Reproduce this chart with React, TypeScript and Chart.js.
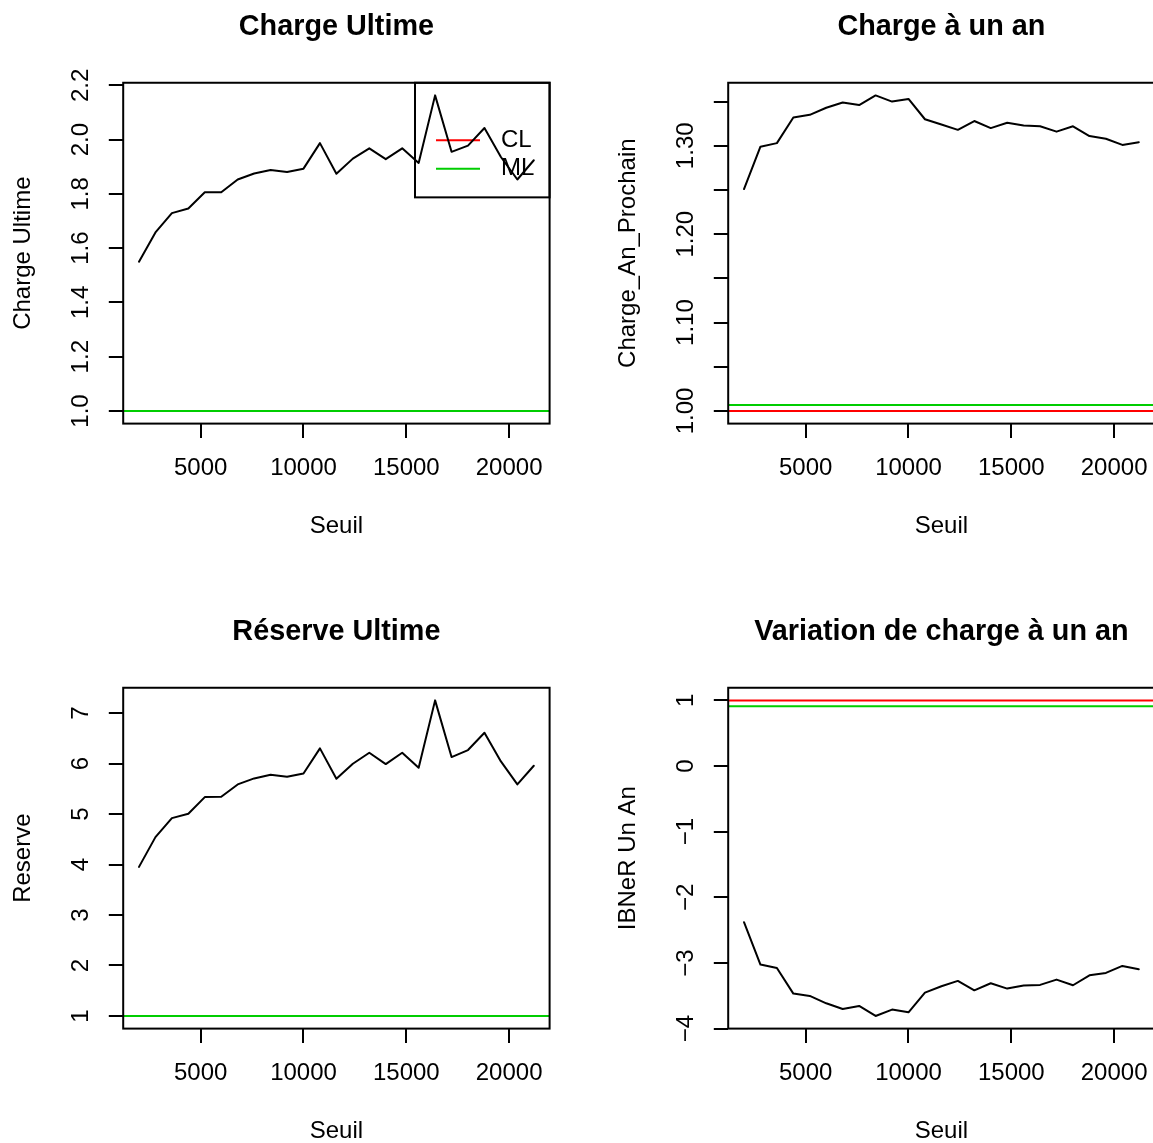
import React, { useEffect, useRef } from "react";
import { Chart, registerables } from "chart.js";

Chart.register(...registerables);

// ---------- data ----------
const seuil = [2000, 2800, 3600, 4400, 5200, 6000, 6800, 7600, 8400, 9200, 10000, 10800, 11600, 12400, 13200, 14000, 14800, 15600, 16400, 17200, 18000, 18800, 19600, 20400, 21200];
const chargeUltime = [1.550, 1.658, 1.729, 1.746, 1.806, 1.806, 1.853, 1.875, 1.888, 1.881, 1.893, 1.987, 1.874, 1.930, 1.968, 1.928, 1.968, 1.914, 2.163, 1.955, 1.978, 2.043, 1.936, 1.853, 1.924];
const chargeAnProchain = [1.251, 1.299, 1.303, 1.332, 1.335, 1.343, 1.349, 1.346, 1.357, 1.350, 1.353, 1.330, 1.324, 1.318, 1.328, 1.320, 1.326, 1.323, 1.322, 1.316, 1.322, 1.311, 1.308, 1.301, 1.304];
const reserve = [3.954, 4.543, 4.919, 5.005, 5.336, 5.342, 5.587, 5.706, 5.779, 5.739, 5.805, 6.301, 5.699, 5.997, 6.215, 5.990, 6.215, 5.917, 7.252, 6.129, 6.268, 6.611, 6.043, 5.587, 5.957];
const ibnerUnAn = [-2.379, -3.024, -3.075, -3.466, -3.502, -3.614, -3.700, -3.654, -3.807, -3.710, -3.751, -3.451, -3.355, -3.273, -3.416, -3.309, -3.390, -3.344, -3.334, -3.253, -3.339, -3.187, -3.151, -3.045, -3.096];

// reference lines (CL in red, ML in green) per panel
const refCL = [1, 1, 1, 1];
const refML = [1, 1.0068, 1, 0.909];

const legendLabels = ["CL", "ML"];

const xTicks = [5000, 10000, 15000, 20000];
const xTickLabels = ["5000", "10000", "15000", "20000"];

const yTicks1 = [1.0, 1.2, 1.4, 1.6, 1.8, 2.0, 2.2];
const yLabels1 = ["1.0", "1.2", "1.4", "1.6", "1.8", "2.0", "2.2"];
const yTicks2 = [1.0, 1.05, 1.1, 1.15, 1.2, 1.25, 1.3, 1.35];
const yLabels2 = ["1.00", "", "1.10", "", "1.20", "", "1.30", ""];
const yTicks3 = [1, 2, 3, 4, 5, 6, 7];
const yLabels3 = ["1", "2", "3", "4", "5", "6", "7"];
const yTicks4 = [-4, -3, -2, -1, 0, 1];
const yLabels4 = ["\u22124", "\u22123", "\u22122", "\u22121", "0", "1"];

const titles = ["Charge Ultime", "Charge à un an", "Réserve Ultime", "Variation de charge à un an"];
const yTitles = ["Charge Ultime", "Charge_An_Prochain", "Reserve", "IBNeR Un An"];
const xTitle = "Seuil";

// ---------- styling ----------
const FONT = "'Liberation Sans', Arial, Helvetica, sans-serif";
const RED = "#FF0000";
const GREEN = "#00CD00";
const PANEL = 605;
const LW = 2;

Chart.defaults.font.family = FONT;
Chart.defaults.color = "#000";

function limits(vals: number[]): [number, number] {
  const lo = Math.min(...vals);
  const hi = Math.max(...vals);
  const p = (hi - lo) * 0.04;
  return [lo - p, hi + p];
}

function widest(labels: string[]): number {
  const c = document.createElement("canvas").getContext("2d")!;
  c.font = `24px ${FONT}`;
  return Math.max(...labels.map((l) => c.measureText(l).width));
}

const boxPlugin = {
  id: "rbox",
  afterDatasetsDraw(chart: any) {
    const { ctx, chartArea: a } = chart;
    ctx.save();
    ctx.strokeStyle = "#000";
    ctx.lineWidth = LW;
    ctx.strokeRect(a.left, a.top, a.right - a.left, a.bottom - a.top);
    ctx.restore();
  },
};

const legendPlugin = {
  id: "rlegend",
  beforeDatasetsDraw(chart: any, _args: any, opts: any) {
    if (!opts || !opts.show) return;
    const { ctx, chartArea: a } = chart;
    ctx.save();
    ctx.strokeStyle = "#000";
    ctx.lineWidth = LW;
    const bx = a.right - 134.6;
    const by = a.top;
    ctx.strokeRect(bx, by, a.right - bx, 114.6);
    const colors = [RED, GREEN];
    const ys = [by + 57.4, by + 86];
    ctx.font = `24px ${FONT}`;
    ctx.textBaseline = "middle";
    ctx.textAlign = "left";
    legendLabels.forEach((lab, i) => {
      ctx.strokeStyle = colors[i];
      ctx.beginPath();
      ctx.moveTo(a.right - 113.6, ys[i]);
      ctx.lineTo(a.right - 69.6, ys[i]);
      ctx.stroke();
      ctx.fillStyle = "#000";
      ctx.fillText(lab, a.right - 48.6, ys[i]);
    });
    ctx.restore();
  },
};

type PanelCfg = {
  title: string;
  yTitle: string;
  values: number[];
  yTicks: number[];
  yLabels: string[];
  cl: number;
  ml: number;
  legend: boolean;
};

const panels: PanelCfg[] = [
  { title: titles[0], yTitle: yTitles[0], values: chargeUltime, yTicks: yTicks1, yLabels: yLabels1, cl: refCL[0], ml: refML[0], legend: true },
  { title: titles[1], yTitle: yTitles[1], values: chargeAnProchain, yTicks: yTicks2, yLabels: yLabels2, cl: refCL[1], ml: refML[1], legend: false },
  { title: titles[2], yTitle: yTitles[2], values: reserve, yTicks: yTicks3, yLabels: yLabels3, cl: refCL[2], ml: refML[2], legend: false },
  { title: titles[3], yTitle: yTitles[3], values: ibnerUnAn, yTicks: yTicks4, yLabels: yLabels4, cl: refCL[3], ml: refML[3], legend: false },
];

function Panel({ cfg, left, top }: { cfg: PanelCfg; left: number; top: number }) {
  const ref = useRef<HTMLCanvasElement>(null);
  useEffect(() => {
    const [xmin, xmax] = limits(seuil);
    const [ymin, ymax] = limits([...cfg.values, cfg.cl, cfg.ml]);
    const yPad = 27.8 - widest(cfg.yLabels) / 2;
    const chart = new Chart(ref.current!, {
      type: "line",
      data: {
        datasets: [
          {
            label: "ML",
            data: [{ x: xmin, y: cfg.ml }, { x: xmax, y: cfg.ml }],
            borderColor: GREEN,
            borderWidth: LW,
            pointRadius: 0,
            order: 0,
          },
          {
            label: "CL",
            data: [{ x: xmin, y: cfg.cl }, { x: xmax, y: cfg.cl }],
            borderColor: RED,
            borderWidth: LW,
            pointRadius: 0,
            order: 1,
          },
          {
            label: cfg.yTitle,
            data: seuil.map((x, i) => ({ x, y: cfg.values[i] })),
            borderColor: "#000",
            borderWidth: LW,
            pointRadius: 0,
            tension: 0,
            borderJoinStyle: "round",
            borderCapStyle: "round",
            order: 2,
          },
        ],
      },
      options: {
        responsive: false,
        animation: false,
        devicePixelRatio: 1,
        layout: { padding: { left: 0, top: 0, right: 55.4, bottom: 61.4 } },
        plugins: {
          legend: { display: false },
          tooltip: { enabled: false },
          title: {
            display: true,
            text: cfg.title,
            fullSize: false,
            color: "#000",
            font: { family: FONT, size: 28.8, weight: "bold" },
            padding: { top: 10.2, bottom: 38.0 },
          },
          rlegend: { show: cfg.legend },
        } as any,
        scales: {
          x: {
            type: "linear",
            position: "bottom",
            min: xmin,
            max: xmax,
            afterBuildTicks: (s: any) => {
              s.ticks = xTicks.map((v) => ({ value: v }));
            },
            afterFit: (s: any) => {
              s.height = 120;
            },
            ticks: {
              autoSkip: false,
              minRotation: 0,
              maxRotation: 0,
              padding: 16,
              color: "#000",
              font: { family: FONT, size: 24 },
              callback: (_v: any, i: number) => xTickLabels[i],
            },
            grid: {
              display: true,
              drawOnChartArea: false,
              drawTicks: true,
              tickLength: 14.4,
              tickWidth: LW,
              tickColor: "#000",
              color: "#000",
              lineWidth: LW,
            },
            border: { display: false },
            title: {
              display: true,
              text: xTitle,
              color: "#000",
              font: { family: FONT, size: 24 },
              padding: { top: 0, bottom: 2.8 },
            },
          },
          y: {
            type: "linear",
            position: "left",
            min: ymin,
            max: ymax,
            afterBuildTicks: (s: any) => {
              s.ticks = cfg.yTicks.map((v) => ({ value: v }));
            },
            afterFit: (s: any) => {
              s.width = 123.2;
            },
            ticks: {
              autoSkip: false,
              minRotation: 90,
              maxRotation: 90,
              crossAlign: "center",
              padding: yPad,
              color: "#000",
              font: { family: FONT, size: 24 },
              callback: (_v: any, i: number) => cfg.yLabels[i],
            },
            grid: {
              display: true,
              drawOnChartArea: false,
              drawTicks: true,
              tickLength: 14.4,
              tickWidth: LW,
              tickColor: "#000",
              color: "#000",
              lineWidth: LW,
            },
            border: { display: false },
            title: {
              display: true,
              text: cfg.yTitle,
              color: "#000",
              font: { family: FONT, size: 24 },
              padding: { top: 8.6, bottom: 0 },
            },
          },
        },
      } as any,
      plugins: [boxPlugin, legendPlugin],
    });
    return () => chart.destroy();
  }, []);
  return (
    <canvas
      ref={ref}
      width={PANEL}
      height={PANEL}
      style={{ position: "absolute", left, top, width: PANEL, height: PANEL }}
    />
  );
}

export default function App() {
  return (
    <div
      style={{
        position: "absolute",
        left: 0,
        top: 0,
        width: 1153,
        height: 1143,
        overflow: "hidden",
        background: "#fff",
      }}
    >
      {panels.map((p, i) => (
        <Panel key={i} cfg={p} left={(i % 2) * PANEL} top={Math.floor(i / 2) * PANEL} />
      ))}
    </div>
  );
}
